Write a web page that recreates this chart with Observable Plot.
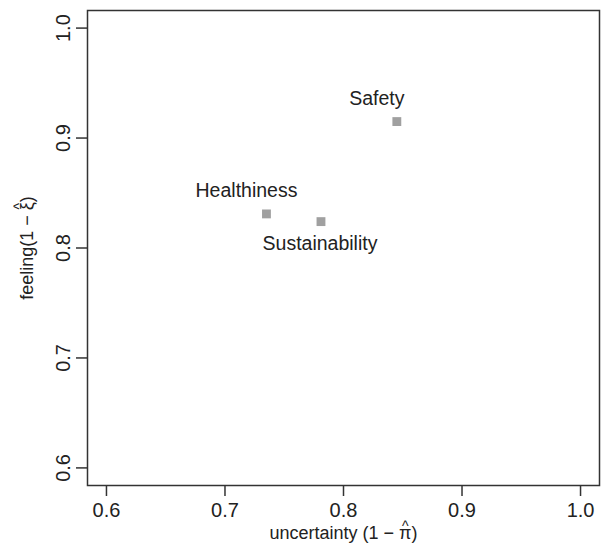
<!DOCTYPE html>
<html>
<head>
<meta charset="utf-8">
<script src="https://cdn.jsdelivr.net/npm/d3@7"></script>
<script src="https://cdn.jsdelivr.net/npm/@observablehq/plot@0.6"></script>
<style>
  body { margin: 0; background: #fff; }
  #chart svg { display: block; }
</style>
</head>
<body>
<div id="chart"></div>
<script>
const categories = ["Safety", "Healthiness", "Sustainability"];
const uncertainty = [0.845, 0.735, 0.781];
const feeling = [0.915, 0.831, 0.824];
const xTicks = [0.6, 0.7, 0.8, 0.9, 1.0];
const yTicks = [0.6, 0.7, 0.8, 0.9, 1.0];
const labelPos = ["above", "above", "below"];
const xTitlePre = "uncertainty (1 \u2212 ", xTitleSym = "\u03c0", xTitlePost = ")";
const yTitlePre = "feeling(1 \u2212 ", yTitleSym = "\u03be", yTitlePost = ")";

const data = categories.map((c, i) => ({name: c, x: uncertainty[i], y: feeling[i], pos: labelPos[i]}));
const fmt = d3.format(".1f");
const ink = "#222";
const FONT = "'Liberation Sans', Arial, sans-serif";
const titleSize = 18;

// measure text to place the hat accents over the Greek symbols
const ctx = document.createElement("canvas").getContext("2d");
ctx.font = `${titleSize}px ${FONT}`;
const mw = s => ctx.measureText(s).width;
function hatOffset(pre, sym, post) {
  const W = mw(pre + sym + post);
  return -W / 2 + mw(pre) + mw(sym) / 2;
}
const xHat = hatOffset(xTitlePre, xTitleSym, xTitlePost);
const yHat = hatOffset(yTitlePre, yTitleSym, yTitlePost);

const xTitleDy = 53, yTitleDx = -60;

const chart = Plot.plot({
  width: 603,
  height: 547,
  marginLeft: 87,
  marginRight: 4,
  marginTop: 10,
  marginBottom: 62,
  style: {fontFamily: FONT, background: "#fff", color: ink},
  x: {domain: [0.584, 1.016]},
  y: {domain: [0.584, 1.016]},
  marks: [
    Plot.frame({stroke: "#333", strokeWidth: 1.5}),
    Plot.axisX({ticks: xTicks, tickSize: 11, tickPadding: 6, tickFormat: fmt, fontSize: 20, label: null, stroke: "#333", strokeWidth: 1.5}),
    Plot.axisY({ticks: yTicks, tickSize: 11, tickFormat: () => "", label: null, stroke: "#333", strokeWidth: 1.5}),
    Plot.text(yTicks, {y: d => d, frameAnchor: "left", textAnchor: "middle", rotate: -90, dx: -24, text: d => fmt(d), fontSize: 20, fill: ink}),
    Plot.text([xTitlePre + xTitleSym + xTitlePost], {frameAnchor: "bottom", textAnchor: "middle", dy: xTitleDy, text: d => d, fontSize: titleSize, fill: ink}),
    Plot.text(["^"], {frameAnchor: "bottom", textAnchor: "middle", dx: xHat, dy: xTitleDy - 8, text: d => d, fontSize: 14, fill: ink}),
    Plot.text([yTitlePre + yTitleSym + yTitlePost], {frameAnchor: "left", textAnchor: "middle", rotate: -90, dx: yTitleDx, text: d => d, fontSize: titleSize, fill: ink}),
    Plot.text(["^"], {frameAnchor: "left", textAnchor: "middle", rotate: -90, dx: yTitleDx - 8, dy: -yHat, text: d => d, fontSize: 14, fill: ink}),
    Plot.dot(data, {x: "x", y: "y", symbol: "square", r: 5, fill: "#a0a0a0", stroke: null}),
    Plot.text(data.filter(d => d.pos === "above"), {x: "x", y: "y", text: "name", dx: -20, dy: -23, fontSize: 19.5, fill: ink}),
    Plot.text(data.filter(d => d.pos === "below"), {x: "x", y: "y", text: "name", dx: -1, dy: 22, fontSize: 19.5, fill: ink})
  ]
});
document.getElementById("chart").append(chart);
</script>
</body>
</html>
